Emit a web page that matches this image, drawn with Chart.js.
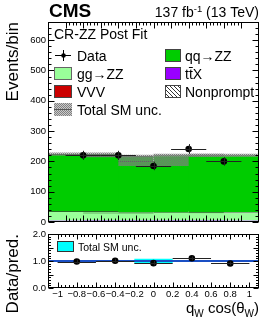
<!DOCTYPE html>
<html>
<head>
<meta charset="utf-8">
<script src="https://cdn.jsdelivr.net/npm/chart.js@4.4.1/dist/chart.umd.min.js"></script>
<style>
  html, body { margin: 0; padding: 0; background: #fff; }
  #wrap { position: relative; width: 270px; height: 327px; }
  canvas { position: absolute; left: 0; top: 0; }
</style>
</head>
<body>
<div id="wrap">
  <canvas id="main" width="270" height="327"></canvas>
  <canvas id="ratio" width="270" height="327"></canvas>
</div>
<script>
// 数据
const binCenters = [-0.8, -0.4, 0, 0.4, 0.8];
const binHalfWidth = 0.2;
const dataCounts = [220, 220, 185, 241, 200];
const dataErr = [15, 15, 14, 16, 14];
const nonprompt = [2, 2, 2, 2, 2];
const vvv = [0.5, 0.5, 0.5, 0.5, 0.5];
const ttx = [1.5, 1.5, 1.5, 1.5, 1.5];
const ggZZ = [32, 27, 27, 30, 28];
const qqZZ = [188, 187, 170, 186, 188];
const totalSM = [224, 218, 201, 220, 220];
const totalUnc = [5, 4, 16, 5, 5];
const ratioValues = [0.98, 1.01, 0.92, 1.10, 0.91];
const ratioErr = [0.07, 0.07, 0.08, 0.07, 0.07];
const ratioUnc = [0.025, 0.02, 0.08, 0.025, 0.025];

const FONT = "'Liberation Sans', Arial, sans-serif";
Chart.defaults.font.family = FONT;
Chart.defaults.color = '#000';

const xy = ys => binCenters.map((x, i) => ({ x, y: ys[i] }));

// 填充图案
function makePattern(size, draw) {
  const c = document.createElement('canvas');
  c.width = c.height = size;
  const g = c.getContext('2d');
  draw(g, size);
  return g.createPattern(c, 'repeat');
}
const hatchPattern = makePattern(4, (g, s) => {
  g.fillStyle = '#fff'; g.fillRect(0, 0, s, s);
  g.strokeStyle = '#000'; g.lineWidth = 0.8;
  g.beginPath(); g.moveTo(-1, -1); g.lineTo(s + 1, s + 1); g.stroke();
  g.beginPath(); g.moveTo(-1, s - 1); g.lineTo(1, s + 1); g.stroke();
  g.beginPath(); g.moveTo(s - 1, -1); g.lineTo(s + 1, 1); g.stroke();
});
const uncPattern = makePattern(2, (g) => {
  g.fillStyle = 'rgba(150,150,150,0.5)'; g.fillRect(0, 0, 2, 2);
  g.fillStyle = 'rgba(110,110,110,0.8)'; g.fillRect(0, 0, 1, 1); g.fillRect(1, 1, 1, 1);
});

// 画框和内刻度 (ROOT style)
const frame = {
  id: 'frame',
  afterDraw(chart, args, o) {
    const { ctx, chartArea: a, scales: { x, y } } = chart;
    const L = Math.round(a.left) + 0.5, R = Math.round(a.right) - 0.5;
    const T = Math.round(a.top) + 0.5, B = Math.round(a.bottom) - 0.5;
    ctx.save();
    ctx.strokeStyle = '#000';
    ctx.lineWidth = 1;
    ctx.beginPath();
    const nx = Math.round((x.max - x.min) / o.xMinor);
    for (let i = 0; i <= nx; i++) {
      const v = x.min + i * o.xMinor;
      const len = (i % o.xSub === 0) ? o.xLen : o.xLen / 2;
      const px = Math.round(x.getPixelForValue(v)) + 0.5;
      ctx.moveTo(px, B); ctx.lineTo(px, B - len);
      ctx.moveTo(px, T); ctx.lineTo(px, T + len);
    }
    const ny = Math.round((y.max - y.min) / o.yMinor);
    for (let i = 0; i <= ny; i++) {
      const v = y.min + i * o.yMinor;
      const len = (i % o.ySub === 0) ? o.yLen : o.yLen / 2;
      const py = Math.round(y.getPixelForValue(v)) + 0.5;
      ctx.moveTo(L, py); ctx.lineTo(L + len, py);
      ctx.moveTo(R, py); ctx.lineTo(R - len, py);
    }
    ctx.stroke();
    ctx.strokeRect(L, T, R - L, B - T);
    ctx.restore();
  }
};

// 误差棒
const errorBars = {
  id: 'errorBars',
  afterDatasetsDraw(chart, args, o) {
    const { ctx, scales: { x, y } } = chart;
    ctx.save();
    ctx.strokeStyle = '#222';
    ctx.lineWidth = 1;
    ctx.beginPath();
    binCenters.forEach((c, i) => {
      const px = Math.round(x.getPixelForValue(c)) + 0.5;
      const py = Math.round(y.getPixelForValue(o.values[i])) + 0.5;
      ctx.moveTo(x.getPixelForValue(c - binHalfWidth), py);
      ctx.lineTo(x.getPixelForValue(c + binHalfWidth), py);
      ctx.moveTo(px, y.getPixelForValue(o.values[i] - o.errors[i]));
      ctx.lineTo(px, y.getPixelForValue(o.values[i] + o.errors[i]));
    });
    ctx.stroke();
    ctx.restore();
  }
};

// 参考线 y = 1, 画在青色带之后、数据点之前
const refLine = {
  id: 'refLine',
  beforeDatasetDraw(chart, args) {
    if (args.index !== 0) return;
    const { ctx, chartArea: a, scales: { y } } = chart;
    const py = y.getPixelForValue(1);
    ctx.save();
    ctx.strokeStyle = '#1a4fc4';
    ctx.lineWidth = 2;
    ctx.beginPath(); ctx.moveTo(a.left, py); ctx.lineTo(a.right, py); ctx.stroke();
    ctx.restore();
  }
};

function swatch(ctx, x, y, w, h, fill, border) {
  ctx.fillStyle = fill;
  ctx.fillRect(x, y, w, h);
  ctx.strokeStyle = border || '#444';
  ctx.lineWidth = 1;
  ctx.strokeRect(x + 0.5, y + 0.5, w - 1, h - 1);
}

function textWithSub(ctx, parts, x, y, align) {
  // parts: [text, size, dy]
  let w = 0;
  parts.forEach(p => { ctx.font = p[1] + 'px ' + FONT; w += ctx.measureText(p[0]).width; });
  let cx = align === 'right' ? x - w : x;
  ctx.textAlign = 'left';
  parts.forEach(p => {
    ctx.font = p[1] + 'px ' + FONT;
    ctx.fillText(p[0], cx, y + p[2]);
    cx += ctx.measureText(p[0]).width;
  });
}

// 主图上的文字和图例
const mainText = {
  id: 'mainText',
  afterDraw(chart) {
    const { ctx } = chart;
    ctx.save();
    ctx.fillStyle = '#000';
    ctx.textBaseline = 'alphabetic';
    ctx.font = 'bold 19px ' + FONT;
    ctx.fillText('CMS', 49, 17);
    textWithSub(ctx, [['137 fb', 14, 0], ['-1', 9.5, -5], [' (13 TeV)', 14, 0]], 259, 17, 'right');

    ctx.font = '14px ' + FONT;
    ctx.fillText('CR-ZZ Post Fit', 54, 39);

    // 图例
    const rows = [55, 73, 91, 109];
    const sx = 54, sw = 18, sh = 13, tx = 77;
    const rx = 165, rtx = 185;
    // Data
    ctx.strokeStyle = '#000'; ctx.lineWidth = 1;
    ctx.beginPath();
    ctx.moveTo(sx + 1, rows[0] + 0.5); ctx.lineTo(sx + sw - 1, rows[0] + 0.5);
    ctx.moveTo(sx + sw / 2 + 0.5, rows[0] - 5); ctx.lineTo(sx + sw / 2 + 0.5, rows[0] + 6);
    ctx.stroke();
    ctx.beginPath(); ctx.arc(sx + sw / 2 + 0.5, rows[0] + 0.5, 2.3, 0, Math.PI * 2); ctx.fillStyle = '#000'; ctx.fill();
    ctx.font = '14px ' + FONT;
    ctx.fillText('Data', tx, rows[0] + 5.5);
    swatch(ctx, sx, rows[1] - 6, sw, sh, '#99ff99', '#666');
    ctx.fillStyle = '#000'; ctx.fillText('gg\u2192ZZ', tx, rows[1] + 5.5);
    swatch(ctx, sx, rows[2] - 6, sw, sh, '#cc0000', '#444');
    ctx.fillStyle = '#000'; ctx.fillText('VVV', tx, rows[2] + 5.5);
    swatch(ctx, sx, rows[3] - 6, sw, sh, uncPattern, 'rgba(0,0,0,0)');
    ctx.fillStyle = '#555'; ctx.fillRect(sx, rows[3], sw, 1);
    ctx.fillStyle = '#000'; ctx.fillText('Total SM unc.', tx, rows[3] + 5.5);

    swatch(ctx, rx, rows[0] - 6, sw - 2, sh, '#00cc00', '#444');
    ctx.fillStyle = '#000'; ctx.fillText('qq\u2192ZZ', rtx, rows[0] + 5.5);
    swatch(ctx, rx, rows[1] - 6, sw - 2, sh, '#9900ff', '#444');
    ctx.fillStyle = '#000';
    const tw = ctx.measureText('t').width;
    ctx.fillText('ttX', rtx, rows[1] + 5.5);
    ctx.fillRect(rtx + tw, rows[1] - 6, tw, 1);
    swatch(ctx, rx, rows[2] - 6, sw - 2, sh, hatchPattern, '#444');
    ctx.fillStyle = '#000'; ctx.fillText('Nonprompt', rtx, rows[2] + 5.5);

    // y 轴标题
    ctx.save();
    ctx.translate(18, 22);
    ctx.rotate(-Math.PI / 2);
    ctx.font = '17px ' + FONT;
    ctx.textAlign = 'right';
    ctx.fillText('Events/bin', 0, 0);
    ctx.restore();
    ctx.restore();
  }
};

// 比值图文字
const ratioText = {
  id: 'ratioText',
  afterDraw(chart) {
    const { ctx } = chart;
    ctx.save();
    ctx.fillStyle = '#000';
    swatch(ctx, 57, 241, 17, 11, '#00ffff', '#333');
    ctx.fillStyle = '#000';
    ctx.font = '10.5px ' + FONT;
    ctx.fillText('Total SM unc.', 78, 250.5);

    ctx.save();
    ctx.translate(18, 234);
    ctx.rotate(-Math.PI / 2);
    ctx.font = '17px ' + FONT;
    ctx.textAlign = 'right';
    ctx.fillText('Data/pred.', 0, 0);
    ctx.restore();

    // x 轴标题 q_W cos(θ_W)
    textWithSub(ctx, [['q', 15, 0], ['W', 10, 4], [' cos(\u03b8', 15, 0], ['W', 10, 4], [')', 15, 0]], 259, 313, 'right');
    ctx.restore();
  }
};

const fmtX = v => {
  const r = Math.round(v * 10) / 10;
  if (r === 0) return '0';
  const s = Math.abs(r) === 1 ? '1' : Math.abs(r).toFixed(1);
  return (r < 0 ? '\u2212' : '') + s;
};

const barCommon = { grouped: false, barPercentage: 2, categoryPercentage: 1, borderWidth: 0 };

// 主图
new Chart(document.getElementById('main'), {
  type: 'bar',
  data: {
    datasets: [
      { type: 'scatter', label: 'Data', data: xy(dataCounts), stack: 'data',
        pointRadius: 3.3, pointBackgroundColor: '#000', pointBorderWidth: 0 },
      { label: 'Total SM unc.', stack: 'unc', ...barCommon, backgroundColor: uncPattern,
        data: binCenters.map((x, i) => ({ x, y: [totalSM[i] - totalUnc[i], totalSM[i] + totalUnc[i]] })) },
      { label: 'Nonprompt', stack: 'sm', ...barCommon, data: xy(nonprompt), backgroundColor: '#333' },
      { label: 'VVV', stack: 'sm', ...barCommon, data: xy(vvv), backgroundColor: '#cc0000' },
      { label: 'ttX', stack: 'sm', ...barCommon, data: xy(ttx), backgroundColor: '#9900ff' },
      { label: 'gg→ZZ', stack: 'sm', ...barCommon, data: xy(ggZZ), backgroundColor: '#99ff99',
        borderColor: '#2a6a2a', borderWidth: { top: 1, left: 0, right: 0, bottom: 0 } },
      { label: 'qq→ZZ', stack: 'sm', ...barCommon, data: xy(qqZZ), backgroundColor: '#00cc00',
        borderColor: '#1f5f1f', borderWidth: { top: 1, left: 0, right: 0, bottom: 0 } }
    ]
  },
  options: {
    responsive: false,
    animation: false,
    layout: { padding: { left: 0, right: 11, top: 22, bottom: 105 } },
    scales: {
      x: { type: 'linear', min: -1, max: 1, display: false, ticks: { stepSize: 0.2 } },
      y: {
        stacked: true, min: 0, max: 660,
        grid: { display: false, drawTicks: false }, border: { display: false },
        ticks: { stepSize: 100, includeBounds: false, padding: 2, font: { size: 9.5 },
          callback: v => (v % 100 === 0 ? String(v) : '') },
        afterFit: s => { s.width = 48; }
      }
    },
    plugins: {
      legend: { display: false },
      tooltip: { enabled: false },
      errorBars: { values: dataCounts, errors: dataErr },
      frame: { xMinor: 0.04, xSub: 5, xLen: 6, yMinor: 20, ySub: 5, yLen: 6 }
    }
  },
  plugins: [errorBars, frame, mainText]
});

// 比值图
new Chart(document.getElementById('ratio'), {
  type: 'bar',
  data: {
    datasets: [
      { type: 'scatter', label: 'Data', data: xy(ratioValues), stack: 'data',
        pointRadius: 3.3, pointBackgroundColor: '#000', pointBorderWidth: 0 },
      { label: 'Total SM unc.', stack: 'unc', ...barCommon, backgroundColor: '#00ffff',
        data: binCenters.map((x, i) => ({ x, y: [1 - ratioUnc[i], 1 + ratioUnc[i]] })) }
    ]
  },
  options: {
    responsive: false,
    animation: false,
    layout: { padding: { left: 0, right: 11, top: 234, bottom: 27 } },
    scales: {
      x: {
        type: 'linear', min: -1, max: 1,
        grid: { display: false, drawTicks: false }, border: { display: false },
        ticks: { stepSize: 0.2, autoSkip: false, maxRotation: 0, padding: 1, font: { size: 9.5 }, callback: fmtX },
        afterFit: s => { s.height = 12; }
      },
      y: {
        stacked: true, min: 0, max: 2,
        grid: { display: false, drawTicks: false }, border: { display: false },
        ticks: { stepSize: 0.5, padding: 2, font: { size: 9.5 }, callback: v => v.toFixed(1) },
        afterFit: s => { s.width = 48; }
      }
    },
    plugins: {
      legend: { display: false },
      tooltip: { enabled: false },
      errorBars: { values: ratioValues, errors: ratioErr },
      frame: { xMinor: 0.04, xSub: 5, xLen: 5, yMinor: 0.1, ySub: 5, yLen: 5 }
    }
  },
  plugins: [refLine, errorBars, frame, ratioText]
});
</script>
</body>
</html>
